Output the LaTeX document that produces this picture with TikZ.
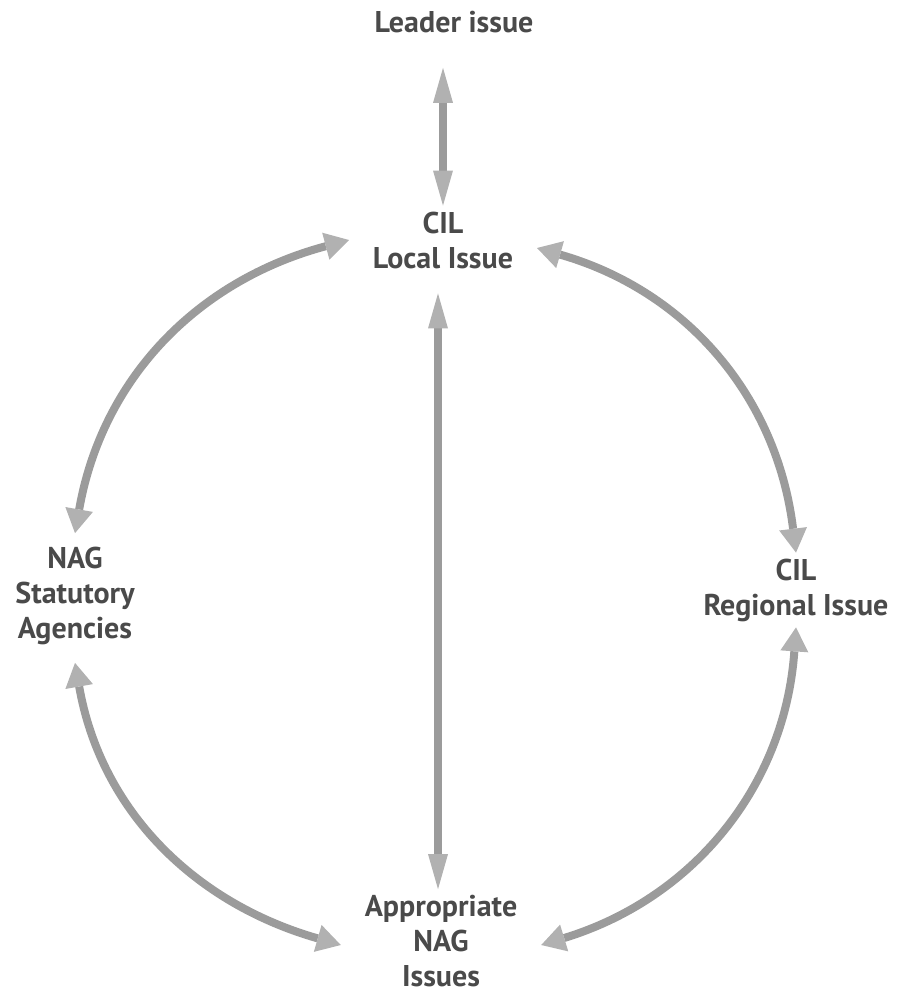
\documentclass[tikz,border=0pt]{standalone}
\usepackage{fontspec}
\setmainfont{PT Sans}
\usetikzlibrary{arrows.meta,calc}
\definecolor{textgray}{HTML}{4A4A4A}
\definecolor{shaftgray}{HTML}{9B9B9B}
\definecolor{headgray}{HTML}{B1B1B1}

\begin{document}
\begin{tikzpicture}[
    x=1pt, y=1pt,
    issue/.style={align=center, inner sep=0pt, outer xsep=24pt, outer ysep=6pt, text=textgray,
        font=\fontsize{30}{35}\selectfont\bfseries},
    link/.style={{Triangle[length=24pt, width=28pt, line width=0pt, color=headgray]}-{Triangle[length=24pt, width=28pt, line width=0pt, color=headgray]},
        line width=8pt, draw=shaftgray},
    vlink/.style={{Triangle[length=35pt, width=20pt, line width=0pt, color=headgray]}-{Triangle[length=35pt, width=20pt, line width=0pt, color=headgray]},
        line width=8pt, draw=shaftgray},
]
\useasboundingbox (0,0) rectangle (897,-993);

% ================== Issues ==================
\node[issue] (leader) at (454,-22) {Leader issue};
\node[issue] (local) at (443,-240) {CIL\\Local Issue};
\node[issue] (nag) at (75,-596) {NAG\\Statutory\\Agencies};
\node[issue] (regional) at (796,-590) {CIL\\Regional Issue};
\node[issue] (approp) at (441,-941) {Appropriate\\NAG\\Issues};

% ================== Links ==================
\draw[vlink, shorten <=29pt] (local.north |- leader.south) -- (local.north);
\draw[vlink, shorten <=19pt] ($(local.south)+(-5,0)$) -- ($(local.south |- approp.north)+(-5,0)$);

\draw[link] (local.west) to[out=195, in=80] ([yshift=8pt]nag.north);
\draw[link] ([yshift=-8pt]local.east) to[out=-16, in=97] (regional.north);
\draw[link] ([yshift=-12pt]nag.south) to[out=280, in=164] ([yshift=-4pt]approp.west);
\draw[link] (regional.south) to[out=266, in=17] ([yshift=-4pt]approp.east);

\end{tikzpicture}
\end{document}
